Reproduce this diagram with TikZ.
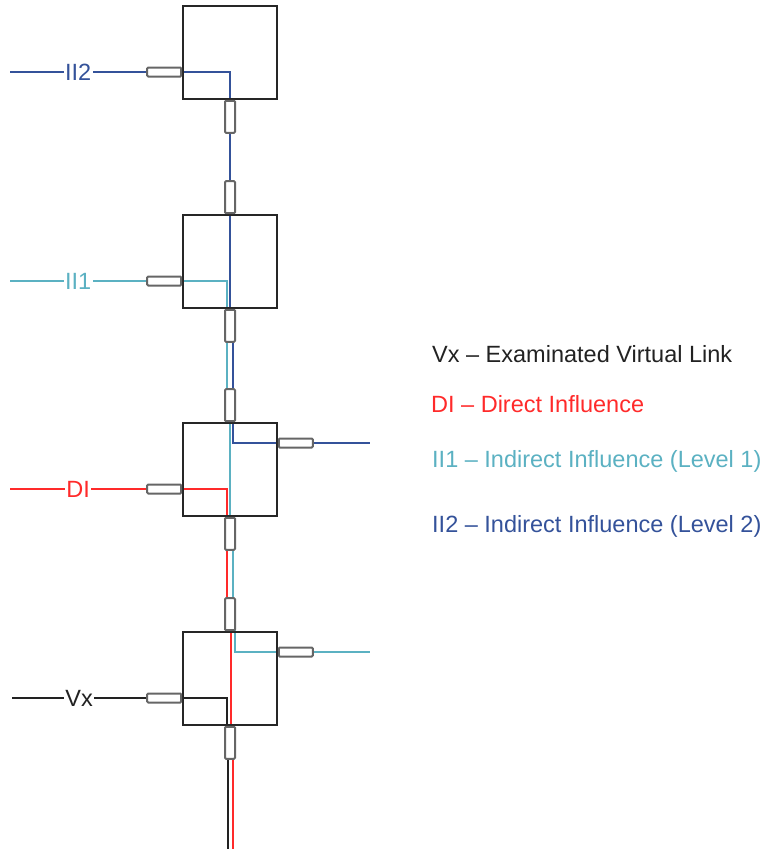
\documentclass[tikz,border=0pt]{standalone}
\usepackage{fontspec}
\setmainfont{Liberation Sans}
\usepackage{tikz}
\usetikzlibrary{calc}
\pgfdeclarelayer{wires}
\pgfsetlayers{wires,main}
\definecolor{lvltwo}{HTML}{34529A}
\definecolor{lvlone}{HTML}{5BB1C2}
\definecolor{direct}{HTML}{FF2A2A}
\definecolor{vlink}{HTML}{222222}

\begin{document}
\begin{tikzpicture}[x=1pt, y=-1pt,
    switch/.style={rectangle, draw=black!85, line width=1.6pt, minimum width=94pt, minimum height=93pt, inner sep=0pt},
    hport/.style={rectangle, draw=black!60, line width=2pt, fill=white, rounded corners=1pt, minimum width=34pt, minimum height=9pt, inner sep=0pt},
    vport/.style={rectangle, draw=black!60, line width=2pt, fill=white, rounded corners=1pt, minimum width=10pt, minimum height=32pt, inner sep=0pt},
    flow/.style={line width=1.6pt},
    tag/.style={fill=white, inner sep=1.5pt, font=\fontsize{23.5}{28}\selectfont},
    legend/.style={anchor=base west, inner sep=0pt, font=\fontsize{23.5}{28}\selectfont}
]
    \useasboundingbox (0,0) rectangle (769,849);

    % Switches
    \node[switch] (sw1) at (230, 52.5) {};
    \node[switch] (sw2) at (230, 261.5) {};
    \node[switch] (sw3) at (230, 469.5) {};
    \node[switch] (sw4) at (230, 678.5) {};

    % Ports
    \node[hport, anchor=east] (in1) at ($(sw1.west)+(0,19.5)$) {};
    \node[hport, anchor=east] (in2) at ($(sw2.west)+(0,19.5)$) {};
    \node[hport, anchor=east] (in3) at ($(sw3.west)+(0,19.5)$) {};
    \node[hport, anchor=east] (in4) at ($(sw4.west)+(0,19.5)$) {};
    \node[hport, anchor=west] (out3) at ($(sw3.east)+(0,-26.5)$) {};
    \node[hport, anchor=west] (out4) at ($(sw4.east)+(0,-26.5)$) {};
    \node[vport, anchor=south] (up2) at (sw2.north) {};
    \node[vport, anchor=south] (up3) at (sw3.north) {};
    \node[vport, anchor=south] (up4) at (sw4.north) {};
    \node[vport, anchor=north] (dn1) at (sw1.south) {};
    \node[vport, anchor=north] (dn2) at (sw2.south) {};
    \node[vport, anchor=north] (dn3) at (sw3.south) {};
    \node[vport, anchor=north] (dn4) at (sw4.south) {};

    % Free ends
    \coordinate (srcII2) at (10, 72);
    \coordinate (srcII1) at (10, 281);
    \coordinate (srcDI) at (10, 489);
    \coordinate (srcVx) at (12, 698);
    \coordinate (endII2) at (370, 443);
    \coordinate (endII1) at (370, 652);
    \coordinate (endDI) at (233, 849);
    \coordinate (endVx) at (228, 849);

    \begin{pgfonlayer}{wires}
    % II2 -- Level 2
    \draw[flow, lvltwo] (srcII2) -- node[tag, text=lvltwo] {II2} (in1.west);
    \draw[flow, lvltwo] (in1.east) -| (dn1.center) -- (dn2.center) -- ([xshift=3pt]dn2.center) |- (out3.west);
    \draw[flow, lvltwo] (out3.east) -- (endII2);

    % II1 -- Level 1
    \draw[flow, lvlone] (srcII1) -- node[tag, text=lvlone] {II1} (in2.west);
    \draw[flow, lvlone] (in2.east) -| ([xshift=-3pt]dn2.center) -- ([xshift=-3pt]up3.center) -- (up3.center) -- (dn3.center) -- ([xshift=3pt]dn3.center) -- ([xshift=3pt]up4.center) -- ([xshift=5pt]up4.center) |- (out4.west);
    \draw[flow, lvlone] (out4.east) -- (endII1);

    % DI -- direct
    \draw[flow, direct] (srcDI) -- node[tag, text=direct] {DI} (in3.west);
    \draw[flow, direct] (in3.east) -| ([xshift=-3pt]dn3.center) -- ([xshift=-3pt]up4.center) -- ([xshift=1pt]up4.center) -- ([xshift=1pt]dn4.center) -- ([xshift=3pt]dn4.center) -- (endDI);

    % Vx -- examined link
    \draw[flow, vlink] (srcVx) -- node[tag, text=vlink] {Vx} (in4.west);
    \draw[flow, vlink] (in4.east) -| ([xshift=-3pt]dn4.center) -- ([xshift=-2pt]dn4.center) -- (endVx);
    \end{pgfonlayer}

    % Legend
    \node[legend, text=vlink] (keyVx) at (432, 362) {Vx – Examinated Virtual Link};
    \node[legend, text=direct] (keyDI) at (431, 412) {DI – Direct Influence};
    \node[legend, text=lvlone] (keyII1) at (432, 467) {II1 – Indirect Influence (Level 1)};
    \node[legend, text=lvltwo] (keyII2) at (432, 532) {II2 – Indirect Influence (Level 2)};
\end{tikzpicture}
\end{document}
